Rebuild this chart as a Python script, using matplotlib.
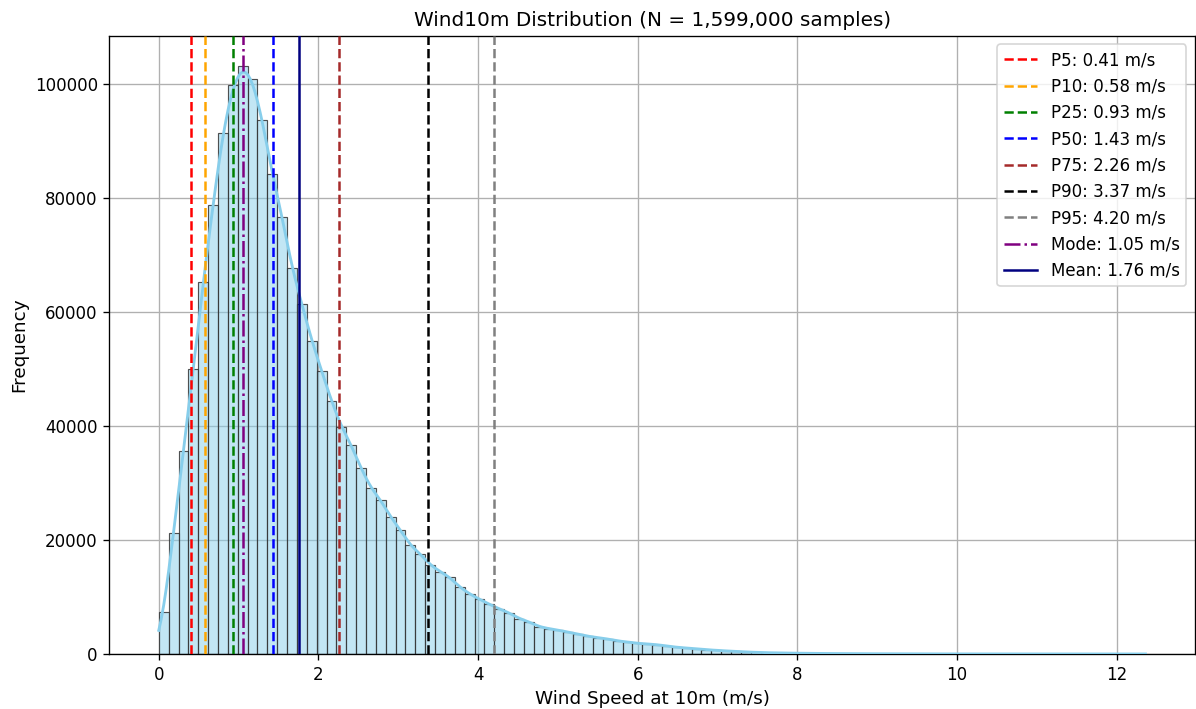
import math
import numpy as np
import matplotlib
matplotlib.use("Agg")
import matplotlib.pyplot as plt

# ---------------- data ----------------
N_SAMPLES = 1599000
DATA_MIN = 0.0
DATA_MAX = 12.36
N_BINS = 100

counts = [
    7310, 21290, 35610, 50000, 65200, 78870, 91450, 99770, 103260, 100870,
    93660, 84230, 76720, 67760, 61360, 55000, 49700, 44400, 39900, 36700,
    32570, 29110, 27010, 24020, 21730, 19040, 17570, 15640, 14470, 13470,
    11720, 10540, 9610, 8730, 7910, 7260, 6210, 5680, 4800, 4450,
    4220, 3810, 3510, 3100, 2870, 2640, 2280, 2110, 1870, 1760,
    1640, 1400, 1170, 1050, 880, 760, 640, 530, 470, 350,
    290, 230, 195, 165, 140, 120, 100, 85, 72, 62,
    52, 45, 38, 32, 27, 23, 20, 17, 14, 12,
    10, 9, 8, 7, 6, 5, 4, 4, 3, 3,
    2, 2, 2, 1, 1, 1, 1, 1, 0, 1,
]

stat_labels = ["P5", "P10", "P25", "P50", "P75", "P90", "P95", "Mode", "Mean"]
stat_values = [0.41, 0.58, 0.93, 1.43, 2.26, 3.37, 4.20, 1.05, 1.76]
stat_colors = ["red", "orange", "green", "blue", "brown", "black", "gray", "purple", "navy"]
stat_styles = ["--", "--", "--", "--", "--", "--", "--", "-.", "-"]

# ---------------- figure ----------------
DPI = 120
fig = plt.figure(figsize=(1196 / DPI, 709 / DPI), dpi=DPI)
ax = fig.add_axes([0.0915, 0.0776, 0.9075, 0.8715])

counts_arr = np.array(counts, dtype=float)
edges = np.linspace(DATA_MIN, DATA_MAX, N_BINS + 1)
centers = 0.5 * (edges[:-1] + edges[1:])
width = edges[1] - edges[0]

ax.hist(centers, bins=edges, weights=counts_arr,
        facecolor=(135/255, 206/255, 235/255, 0.5),
        edgecolor=(0.2, 0.2, 0.2, 0.85), linewidth=0.7, zorder=2)

# KDE (Scott bandwidth) of data uniformly spread within each bin
total = counts_arr.sum()
mean = (counts_arr * centers).sum() / total
std = math.sqrt((counts_arr * (centers - mean) ** 2).sum() / total + width ** 2 / 12)
bw = std * total ** (-1 / 5)
erf = np.vectorize(math.erf)
xs = np.linspace(DATA_MIN, DATA_MAX, 400)
Phi = lambda z: 0.5 * (1 + erf(z / math.sqrt(2)))
dens = np.zeros_like(xs)
for a, b, w in zip(edges[:-1], edges[1:], counts_arr):
    if w > 0:
        dens += w * (Phi((xs - a) / bw) - Phi((xs - b) / bw)) / (b - a)
dens /= total
ax.plot(xs, dens * total * width, color="skyblue", linewidth=1.7, zorder=3)

for lab, val, col, ls in zip(stat_labels, stat_values, stat_colors, stat_styles):
    ax.axvline(val, color=col, linestyle=ls, linewidth=1.5,
               label=f"{lab}: {val:.2f} m/s", zorder=4)

ax.set_title(f"Wind10m Distribution (N = {N_SAMPLES:,} samples)", fontsize=12)
ax.set_xlabel("Wind Speed at 10m (m/s)", fontsize=11)
ax.set_ylabel("Frequency", fontsize=11)
ax.grid(True, zorder=0)
ax.set_axisbelow(True)
ax.legend(loc="upper right")

fig.savefig("out.png", dpi=DPI)
